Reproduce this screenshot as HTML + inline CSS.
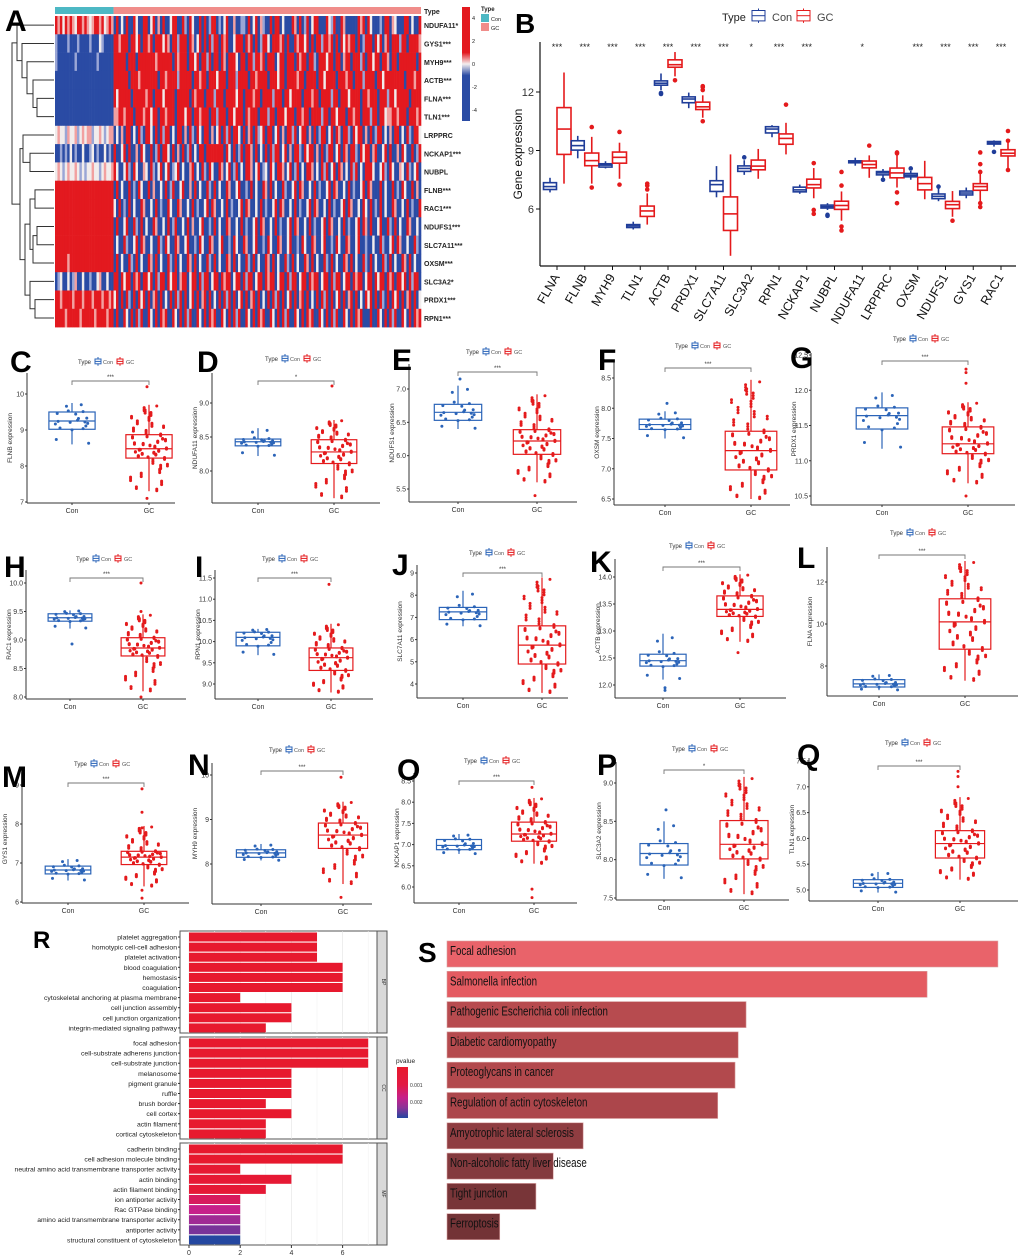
<!DOCTYPE html>
<html><head><meta charset="utf-8">
<style>
html,body{margin:0;padding:0;background:#fff;}
svg{display:block;font-family:"Liberation Sans",sans-serif;}
</style></head>
<body>
<svg id="fig" width="1020" height="1258" viewBox="0 0 1020 1258" xmlns="http://www.w3.org/2000/svg"></svg>
<script>
// ===== DATA =====
const genes=["FLNA","FLNB","MYH9","TLN1","ACTB","PRDX1","SLC7A11","SLC3A2","RPN1","NCKAP1","NUBPL","NDUFA11","LRPPRC","OXSM","NDUFS1","GYS1","RAC1"];
const sigStars=["***","***","***","***","***","***","***","*","***","***","","*","","***","***","***","***"];
const conLo=[6.85,8.6,8.08,4.95,12.1,11.17,6.6,7.75,9.68,6.78,5.95,8.22,7.6,7.5,6.4,6.55,9.2];
const conQ1=[7.0,9.02,8.15,5.05,12.35,11.45,6.9,7.93,9.9,6.88,6.05,8.37,7.75,7.65,6.53,6.72,9.33];
const conMed=[7.15,9.25,8.25,5.13,12.45,11.64,7.25,8.08,10.1,6.98,6.12,8.43,7.85,7.73,6.65,6.82,9.39];
const conQ3=[7.35,9.5,8.32,5.2,12.57,11.75,7.45,8.21,10.22,7.12,6.2,8.47,7.92,7.82,6.77,6.92,9.46];
const conHi=[7.6,9.75,8.45,5.35,12.95,11.97,8.2,8.5,10.3,7.25,6.3,8.63,8.05,7.95,7.05,7.1,9.52];
const conOut=[[],[],[],[],[11.9,11.95],[],[],[8.65],[],[],[5.7,5.65],[],[7.5],[8.08],[7.15],[],[8.93]];
const gcLo=[7.3,7.3,7.55,5.2,12.8,10.68,3.6,7.55,8.8,6.55,5.4,7.6,7.1,6.5,5.6,6.4,8.1];
const gcQ1=[8.8,8.22,8.35,5.62,13.27,11.1,4.9,8.01,9.32,7.08,5.98,8.11,7.6,6.98,6.02,6.96,8.72];
const gcMed=[10.1,8.48,8.65,5.9,13.4,11.24,5.75,8.2,9.62,7.25,6.18,8.28,7.85,7.3,6.22,7.15,8.86];
const gcQ3=[11.2,8.87,8.92,6.15,13.65,11.48,6.62,8.51,9.85,7.53,6.4,8.46,8.1,7.62,6.39,7.3,9.04];
const gcHi=[13.0,9.7,9.4,6.8,14.05,11.83,8.8,9.08,10.42,8.1,6.9,8.75,8.8,8.47,6.92,7.95,9.45];
const gcOut=[[],[10.2,7.1],[9.95,7.25],[7.0,7.2,7.3],[12.6],[12.1,12.3,12.25,10.5],[],[],[11.35],[8.35,5.95,5.75],[7.9,7.2,5.1,4.9],[9.25],[8.9,8.85,6.85,6.3],[],[5.4],[8.9,8.3,7.9,6.3,6.1],[10.0,9.5,8.0]];
// panel R (GO enrichment, gene counts)
const goTerms=["platelet aggregation","homotypic cell-cell adhesion","platelet activation","blood coagulation","hemostasis","coagulation","cytoskeletal anchoring at plasma membrane","cell junction assembly","cell junction organization","integrin-mediated signaling pathway","focal adhesion","cell-substrate adherens junction","cell-substrate junction","melanosome","pigment granule","ruffle","brush border","cell cortex","actin filament","cortical cytoskeleton","cadherin binding","cell adhesion molecule binding","neutral amino acid transmembrane transporter activity","actin binding","actin filament binding","ion antiporter activity","Rac GTPase binding","amino acid transmembrane transporter activity","antiporter activity","structural constituent of cytoskeleton"];
const goCounts=[5,5,5,6,6,6,2,4,4,3,7,7,7,4,4,4,3,4,3,3,6,6,2,4,3,2,2,2,2,2];
const goP=[0.0001,0.0001,0.0001,0.0001,0.0001,0.0001,0.0001,0.0001,0.0001,0.0001,0.0001,0.0001,0.0001,0.0001,0.0001,0.0001,0.0001,0.0001,0.0001,0.0001,0.0001,0.0001,0.0003,0.0004,0.0005,0.0012,0.0015,0.0019,0.0022,0.0028];
const goOnt=["BP","CC","MF"];
const goTicks=[0,2,4,6];
// panel S (KEGG)
const keggTerms=["Focal adhesion","Salmonella infection","Pathogenic Escherichia coli infection","Diabetic cardiomyopathy","Proteoglycans in cancer","Regulation of actin cytoskeleton","Amyotrophic lateral sclerosis","Non-alcoholic fatty liver disease","Tight junction","Ferroptosis"];
const keggScore=[7.0,6.1,3.8,3.7,3.66,3.44,1.73,1.35,1.13,0.67];
const keggColors=["#e9636a","#e45b61","#b74b4f","#b54a4e","#b2494d","#ac464b","#8f3d41","#843a3e","#783538","#733336"];
// heatmap (A): B strong blue, b light blue, w white, r pink, R red; 24 Con + 126 GC columns
const hmRows=["NDUFA11*","GYS1***","MYH9***","ACTB***","FLNA***","TLN1***","LRPPRC","NCKAP1***","NUBPL","FLNB***","RAC1***","NDUFS1***","SLC7A11***","OXSM***","SLC3A2*","PRDX1***","RPN1***"];
const hmCells=[
"RrRwRrRrwRRrRrwrRRrRwrRrBRBwBRBBRwBBRRBwRBrBRBBwRRBBRbBRwBBRBRBbRRBbBwRBBrBBbbBRBwRBrbBBRBRRBwBBBRrBRBbRBwRRBBBRwbRBBRrBBBBBRrRBRwBBBbBRRBrwBBBRRBwB",
"bBBBBbBBBbBBBBbBBBwbBBBBRRrRRRBRRwRBRRrRBRRRwRrBRRbRRRBRrBwRBRBRbRRBRrRBBwRRRBRrRBRBbRRwBRRRrRBRBBRrRRwRBRBRRbRRrRBRBRwRrRRBRBbRRRBRwRBrRBRRRbRRBRR",
"bBBBBBBBbBBBBBBBBbBBBBBBRRRRRBRRRBRRRRRRRrRRRRRRBRrRRRBRRwRBRRbRBRRBRrBRRRwBRRBRRbRRrRBRRRBwRRBRRRBRrRRBRRbBRRRwRRBRRBrRRBRRRbRBRRwRRBRRrBRRBRR",
"BBBBBBBBBBBBBBBBBBBBBBBBRRRRRRBRRRrRRRRRRRBRRrRRRRbRRRRRBRRrRRBRRRwRRRBRRRbRRRRBRRrRRRRBRRRwRRBRRRRrRRBRRRRBRRwRRRRBRRRrRRBRRRbRRRRBRRwRR",
"BBBBBBBBBBBBBBBBBBBBBBBBRwRRRRRBRRRRRrRRBRRRwRRRRBRRRRRBRrRRRBRRRbRRRBRRRRwRRBRRRrRRBRRRRbRRRBRRwRRRRBRRRrRRBRRRRbRRBRRRwRRRRBRRrRRRBRRRbR",
"BBBBBBBBBBBBBBBBBBBBBBBBrrRRrRRRBRRRrRRwRRBRRrRRRBRRRwRRBRRrRRRBRRbRRRBRRwRRRBRrRRRBRRRbRRBRRRwRRRBRRrRRBRRRRbRRBRRwRRRBRRrRRBRRRbRRBRRw",
"wrwwbrwwrbwrwrrbwwrwbwrrBwBrBRRBwBRbBRRwBRBRbRRBwBRRBrBRbBRwBRRBrBwRBRbRBRRwBRBrRBRbwRBRRBwRBrBRRbRBwRRBrBRBbRRBwRBRrBRRbBRwRRBrBRBbRR",
"BBbBbBwBbBBwBBbwBbBBwBbBRBBwRBRBBrBRwBBRBbRBRRwBRBrBRBbRBwBRRBRRRRRRRBRwBRBbRBRRrBRBwBRBRbRRBwRBrBRRbBRwRRBrBRBbRRBwRBRrBRRbBRwRRBr",
"wrwbwrwwrwbwbwwrwwbwrwwrRwBBwRbBRwBBrwBRbBwRBwRBbwRBwBBrRBwBRbBRwBBRrBwRBbRBwBRRrBwRBbwBRwBRRrBwRBbRBwBRRrBwBRbRBwRBRrBwBRbRBwBRR",
"RRRRRRRRRRRRRRRRRRRRRRRRBRBwBBRBbBRwBBRBrBBwBRBbRBBwRBBrBRBwBBRbBRBwBBRrBBwRBBbBRBwBBRrBRBwBBRbBBwRBRrBBwBRBbBBwRBRrBBwBRBbBBwRBRrBB",
"RRRRRRRRRRRRRRRRRRRRRRRRwBRBbBRBwBBRrBBwBRBbBBRwBBRrBBwBRBbBBwRBRrBBwBRBbBBwRBRrBBwBRBbBBwRBRrBBwBRBbBBwRBRrBBwBRBbBBwRBRrBBwBR",
"RRRRRRRRRRRRRRRRRRRRRRRRBRBBwRBBRbBRBwBBRrBBwBRBbRBBwBRBrBBwRBBbBRBwBBRrBBwBRBbBBwRBRrBBwBRBbBBwRBRrBBwBRBbBBwRBRrBBwBRBbBBwRBRr",
"RRRRRRRRRRRRRRRRRRRRRRRRBwBBRbBBwRBRrBBwBBRbBRwBBRrBBwRBBbBRwBBRrBBwRBBbBRwBBRrBBwRBBbBRwBBRrBBwRBBbBRwBBRrBBwRBBbBRwBBRrBBwRBBbB",
"RRRRRrRRRRRRRRRRRRRRRRRRBRBwBBRbBRBwBBRrBRBwBBRbBRBwBBRrBRBwBBRbBRBwBBRrBRBwBBRbBRBwBBRrBRBwBBRbBRBwBBRrBRBwBBRbBRBwBBRrBRBwBBRb",
"BbwBBwBbrBBwBBbBBwrBBwBBRRBRwRRBRrRBRRwRBRbRRBRwRRBrRRBwRRBRbRRBwRRBRrRRBwRRBRbRRBwRRBRrRRBwRRBRbRRBwRRBRrRRBwRRBRbRRBwRRBRrRRBw",
"RRrRRRRrRRRrRRRrRRRrRRrRwRBRBRbBRBRwRBRBrRBRBwBRBRbRBRBwRBRBrRBRBwBRBRbRBRBwRBRBrRBRBwBRBRbRBRBwRBRBrRBRBwBRBRbRBRBwRBRBrRBRBwBR",
"RRRRrRRRRRrRRRRRrRRRRrRRBRBBRwBRBRbRBBRwBRBRrRBBRwBRBRbRBBRwBRBRrRBBRwBRBRbRBBRwBRBRrRBBRwBRBRbRBBRwBRBRrRBBRwBRBRbRBBRwBRBRrRBB"
];
// fixed sample pattern for jittered points (quantile positions & horizontal offsets)
const ptQ=[0.52,0.11,0.78,0.33,0.95,0.61,0.24,0.87,0.46,0.05,0.69,0.38,0.91,0.17,0.57,0.82,0.29,0.73,0.43,0.99,0.08,0.64,0.35,0.84,0.49,0.21,0.76,0.14,0.58,0.93,0.41,0.67,0.02,0.55,0.27,0.89,0.71,0.19,0.47,0.81];
const ptJ=[0.3,-0.6,0.8,-0.2,0.1,-0.9,0.5,-0.4,0.9,0.0,-0.7,0.6,-0.1,0.4,-0.8,0.2,-0.5,0.7,-0.3,0.95,-0.95,0.35,-0.15,0.65,-0.65,0.15,-0.45,0.85,-0.25,0.55,-0.85,0.05,-0.55,0.75,-0.35,0.45,-0.75,0.25,-0.05,0.6];

// ===== helpers =====
const NS="http://www.w3.org/2000/svg";
const svg=document.getElementById('fig');
function mk(tag,attrs,parent,text){const e=document.createElementNS(NS,tag);for(const k in attrs)e.setAttribute(k,attrs[k]);if(text!==undefined)e.textContent=text;(parent||svg).appendChild(e);return e;}
function grp(name,parent){const g=mk('g',{},parent);return g;}
function txt(parent,x,y,s,size,opts){opts=opts||{};const t=mk('text',{x:x,y:y,'font-size':size,fill:opts.fill||'#222','text-anchor':opts.anchor||'start','font-weight':opts.weight||'normal'},parent,s);if(opts.rot!==undefined)t.setAttribute('transform','rotate('+opts.rot+' '+x+' '+y+')');if(opts.family)t.setAttribute('font-family',opts.family);return t;}
function letter(ch,x,y,size){const t=txt(svg,x,y,ch,size||30,{weight:'bold',fill:'#000'});return t;}
function qv(q,lo,q1,md,q3,hi){const ks=[0,.25,.5,.75,1],vs=[lo,q1,md,q3,hi];for(let i=0;i<4;i++){if(q<=ks[i+1]){const f=(q-ks[i])/(ks[i+1]-ks[i]);return vs[i]+f*(vs[i+1]-vs[i]);}}return hi;}
function drawBox(g,cx,w,y,lo,q1,md,q3,hi,col,sw,fill){
  const wl=mk('line',{x1:cx,x2:cx,y1:y(hi),y2:y(lo),stroke:col,'stroke-width':sw},g);
  const r=mk('rect',{x:cx-w/2,y:y(q3),width:w,height:Math.max(1,y(q1)-y(q3)),fill:fill,stroke:col,'stroke-width':sw},g);
  const m=mk('line',{x1:cx-w/2,x2:cx+w/2,y1:y(md),y2:y(md),stroke:col,'stroke-width':sw},g);
}
function legendIcon(g,x,y,col,s){mk('rect',{x:x,y:y-s/2,width:s,height:s*0.8,fill:'none',stroke:col,'stroke-width':1},g);mk('line',{x1:x,x2:x+s,y1:y-s/2+s*0.4,y2:y-s/2+s*0.4,stroke:col,'stroke-width':1},g);mk('line',{x1:x+s/2,x2:x+s/2,y1:y-s/2-2,y2:y-s/2,stroke:col},g);mk('line',{x1:x+s/2,x2:x+s/2,y1:y+s*0.3,y2:y+s*0.3+2,stroke:col},g);}

// ===== Panel A: heatmap =====
(function(){
  const g=grp('heatmap-panel');
  letter('A',5,31,30);
  const x0=55,x1=421,y0=16,rh=18.3,nc=150,cw=(x1-x0)/nc;
  const col={B:'#2a4ba4',b:'#9aa6d6',w:'#f1ecec',r:'#f2a0a0',R:'#e3191f'};
  const tb=mk('rect',{x:x0,y:7,width:24*cw,height:7,fill:'#4db8c4'},g);
  const tb2=mk('rect',{x:x0+24*cw,y:7,width:(nc-24)*cw,height:7,fill:'#f08d8a'},g);
  txt(g,424,14,'Type',7,{weight:'bold'});
  for(let r=0;r<hmRows.length;r++){
    let s=hmCells[r];while(s.length<nc)s+=s.slice(24);s=s.slice(0,nc);
    for(let c=0;c<nc;c++){
      const cell=mk('rect',{x:x0+c*cw,y:y0+r*rh,width:cw+0.3,height:rh+0.3,fill:col[s[c]]||col.w},g);
      
      
    }
    txt(g,424,y0+r*rh+rh/2+3,hmRows[r],7,{weight:'bold',name:'row-label'});
  }
  const yc=i=>y0+(i+0.5)*rh;
  const tree=[[0,[1,[2,[3,[4,5,18],22],28],33],38],[[6,[7,8,25],32],[[[9,10,20],[[11,12,18],13,22],25],[14,[15,16,20],25],30],35],43];
  const dg=grp('dendrogram',g);
  function dr(n){if(typeof n==='number')return {y:yc(n),x:x0-1};const a=dr(n[0]),b=dr(n[1]);const x=x0-n[2];
    mk('path',{d:'M'+a.x+' '+a.y+'H'+x+'V'+b.y+'H'+b.x,fill:'none',stroke:'#333','stroke-width':1},dg);return {y:(a.y+b.y)/2,x:x};}
  dr(tree);
  const lg=grp('heatmap-color-legend');
  const df=mk('defs',{},lg);const lgr=mk('linearGradient',{id:'hmg',x1:0,y1:0,x2:0,y2:1},df);
  [['0','#e3191f'],['0.4','#e3191f'],['0.5','#f4eeee'],['0.6','#2a4ba4'],['1','#2a4ba4']].forEach(s=>mk('stop',{offset:s[0],'stop-color':s[1]},lgr));
  mk('rect',{x:462,y:7,width:8,height:114,fill:'url(#hmg)'},lg);
  [['4',18],['2',41],['0',64],['-2',87],['-4',110]].forEach(t=>txt(lg,472,t[1]+2,t[0],5.5));
  txt(lg,481,11,'Type',6,{weight:'bold'});
  mk('rect',{x:481,y:14,width:8,height:8,fill:'#4db8c4'},lg);txt(lg,491,21,'Con',5.5);
  mk('rect',{x:481,y:23,width:8,height:8,fill:'#f08d8a'},lg);txt(lg,491,30,'GC',5.5);
})();

// ===== Panel B =====
(function(){
  const g=grp('boxplot-panel-b');
  letter('B',515,33,28);
  const L=540,Bm=266,R=1016,T=42;
  const y=v=>209-(v-6)*19.5;const x=i=>557+i*27.75;
  mk('line',{x1:L,x2:L,y1:T,y2:Bm,stroke:'#111','stroke-width':1.2},g);
  mk('line',{x1:L,x2:R,y1:Bm,y2:Bm,stroke:'#111','stroke-width':1.2},g);
  [6,9,12].forEach(v=>{mk('line',{x1:L-4,x2:L,y1:y(v),y2:y(v),stroke:'#111'},g);txt(g,L-6,y(v)+4,String(v),11,{anchor:'end',fill:'#333',name:'y-tick-label'});});
  txt(g,522,154,'Gene expression',12,{anchor:'middle',rot:-90,fill:'#111',name:'y-axis-title'});
  genes.forEach((gn,i)=>{
    const gg=grp('gene-'+gn.toLowerCase(),g);
    mk('line',{x1:x(i),x2:x(i),y1:Bm,y2:Bm+4,stroke:'#111'},gg);
    txt(gg,x(i)+3,Bm+11,gn,12.5,{anchor:'end',rot:-60,fill:'#111',name:'x-tick-label'});
    drawBox(gg,x(i)-7,13,y,conLo[i],conQ1[i],conMed[i],conQ3[i],conHi[i],'#1f3d99',1.6,'#fff');
    conOut[i].forEach(v=>{const c=mk('circle',{cx:x(i)-7,cy:y(v),r:2.3,fill:'#1f3d99'},gg);});
    drawBox(gg,x(i)+7,14,y,gcLo[i],gcQ1[i],gcMed[i],gcQ3[i],gcHi[i],'#e41a1c',1.6,'#fff');
    gcOut[i].forEach(v=>{const c=mk('circle',{cx:x(i)+7,cy:y(v),r:2.3,fill:'#e41a1c'},gg);});
    if(sigStars[i])txt(gg,x(i),50,sigStars[i],9,{anchor:'middle',fill:'#222',name:'significance'});
  });
  const lg=grp('legend',g);
  txt(lg,722,21,'Type',11,{fill:'#222'});
  legendIcon(lg,752,17,'#1f3d99',13);txt(lg,772,21,'Con',11,{fill:'#444'});
  legendIcon(lg,797,17,'#e41a1c',13);txt(lg,817,21,'GC',11,{fill:'#444'});
})();

// ===== Small boxplot panels C-Q =====
const panels=[
 {l:'C',lx:10,ly:372,gene:'FLNB',L:27,B:503,R:175,v1:7,y1:502,v2:10,y2:394,ticks:[7,8,9,10],cx:72,gx:149,legX:110,legY:362,brY:381},
 {l:'D',lx:197,ly:372,gene:'NDUFA11',L:212,B:503,R:380,v1:8,y1:471,v2:9,y2:403,ticks:[8.0,8.5,9.0],cx:258,gx:334,legX:297,legY:359,brY:381},
 {l:'E',lx:392,ly:370,gene:'NDUFS1',L:409,B:502,R:577,v1:5.5,y1:489,v2:7,y2:389,ticks:[5.5,6.0,6.5,7.0],cx:458,gx:537,legX:498,legY:352,brY:372},
 {l:'F',lx:598,ly:370,gene:'OXSM',L:614,B:505,R:790,v1:6.5,y1:499,v2:8.5,y2:378,ticks:[6.5,7.0,7.5,8.0,8.5],cx:665,gx:751,legX:707,legY:346,brY:368},
 {l:'G',lx:790,ly:368,gene:'PRDX1',L:811,B:505,R:1015,v1:10.5,y1:496,v2:12.5,y2:355,ticks:[10.5,11.0,11.5,12.0,12.5],cx:882,gx:968,legX:925,legY:339,brY:361},
 {l:'H',lx:4,ly:577,gene:'RAC1',L:26,B:699,R:186,v1:8,y1:697,v2:10,y2:583,ticks:[8.0,8.5,9.0,9.5,10.0],cx:70,gx:143,legX:108,legY:559,brY:578},
 {l:'I',lx:195,ly:577,gene:'RPN1',L:215,B:699,R:373,v1:9,y1:684,v2:11.5,y2:578,ticks:[9.0,9.5,10.0,10.5,11.0,11.5],cx:258,gx:331,legX:294,legY:559,brY:578},
 {l:'J',lx:392,ly:575,gene:'SLC7A11',L:417,B:698,R:568,v1:4,y1:684,v2:9,y2:573,ticks:[4,5,6,7,8,9],cx:463,gx:542,legX:501,legY:553,brY:573},
 {l:'K',lx:590,ly:572,gene:'ACTB',L:615,B:698,R:786,v1:12,y1:685,v2:14,y2:577,ticks:[12.0,12.5,13.0,13.5,14.0],cx:663,gx:740,legX:701,legY:546,brY:567},
 {l:'L',lx:797,ly:568,gene:'FLNA',L:827,B:696,R:1018,v1:8,y1:666,v2:12,y2:582,ticks:[8,10,12],cx:879,gx:965,legX:922,legY:533,brY:555},
 {l:'M',lx:2,ly:787,gene:'GYS1',L:22,B:903,R:189,v1:6,y1:902,v2:9,y2:785,ticks:[6,7,8,9],cx:68,gx:144,legX:106,legY:764,brY:783},
 {l:'N',lx:188,ly:775,gene:'MYH9',L:212,B:904,R:372,v1:8,y1:864,v2:10,y2:775,ticks:[8,9,10],cx:261,gx:343,legX:301,legY:750,brY:771},
 {l:'O',lx:397,ly:780,gene:'NCKAP1',L:414,B:903,R:577,v1:6,y1:887,v2:8.5,y2:781,ticks:[6.0,6.5,7.0,7.5,8.0,8.5],cx:459,gx:534,legX:496,legY:761,brY:781},
 {l:'P',lx:597,ly:775,gene:'SLC3A2',L:616,B:900,R:789,v1:7.5,y1:898,v2:9,y2:783,ticks:[7.5,8.0,8.5,9.0],cx:664,gx:744,legX:704,legY:749,brY:770},
 {l:'Q',lx:797,ly:765,gene:'TLN1',L:809,B:901,R:1018,v1:5,y1:890,v2:7.5,y2:761,ticks:[5.0,5.5,6.0,6.5,7.0,7.5],cx:878,gx:960,legX:917,legY:743,brY:766}
];
panels.forEach(p=>{
  const i=genes.indexOf(p.gene);
  const g=grp('boxplot-panel-'+p.l.toLowerCase());
  letter(p.l,p.lx,p.ly,30);
  const k=(p.y1-p.y2)/(p.v2-p.v1);const y=v=>p.y1-(v-p.v1)*k;
  const T=p.brY-8;
  mk('line',{x1:p.L,x2:p.L,y1:T,y2:p.B,stroke:'#333','stroke-width':1},g);
  mk('line',{x1:p.L,x2:p.R,y1:p.B,y2:p.B,stroke:'#333','stroke-width':1},g);
  const dec=!['C','J','L','M','N'].includes(p.l);
  p.ticks.forEach(t=>{mk('line',{x1:p.L-2,x2:p.L,y1:y(t),y2:y(t),stroke:'#333'},g);txt(g,p.L-3,y(t)+2.5,dec?t.toFixed(1):String(t),7,{anchor:'end',fill:'#333',name:'y-tick-label'});});
  txt(g,p.L-15,(T+p.B)/2,p.gene+' expression',6.5,{anchor:'middle',rot:-90,fill:'#333',name:'y-axis-title'});
  [[p.cx,'Con'],[p.gx,'GC']].forEach(a=>{mk('line',{x1:a[0],x2:a[0],y1:p.B,y2:p.B+2,stroke:'#333'},g);txt(g,a[0],p.B+10,a[1],7,{anchor:'middle',fill:'#333',name:'x-tick-label'});});
  const w=0.6*(p.gx-p.cx);
  drawBox(g,p.cx,w,y,conLo[i],conQ1[i],conMed[i],conQ3[i],conHi[i],'#2b64b8',1.2,'#fff');
  drawBox(g,p.gx,w,y,gcLo[i],gcQ1[i],gcMed[i],gcQ3[i],gcHi[i],'#e41a1c',1.2,'#fff');
  for(let n=0;n<20;n++){const q=ptQ[(n*2)%40];const v=qv(q,conLo[i],conQ1[i],conMed[i],conQ3[i],conHi[i]);
    const c=mk('circle',{cx:p.cx+ptJ[(n*3)%40]*w*0.4,cy:y(v),r:1.5,fill:'#2b64b8'},g);}
  conOut[i].forEach(v=>{const c=mk('circle',{cx:p.cx+2,cy:y(v),r:1.5,fill:'#2b64b8'},g);});
  for(let n=0;n<110;n++){const q=(ptQ[n%40]+Math.floor(n/40)*0.013)%1;const v=qv(q,gcLo[i],gcQ1[i],gcMed[i],gcQ3[i],gcHi[i]);
    const c=mk('circle',{cx:p.gx+ptJ[(n*7)%40]*w*0.42,cy:y(v),r:1.5,fill:'#e41a1c'},g);}
  gcOut[i].forEach(v=>{const c=mk('circle',{cx:p.gx-2,cy:y(v),r:1.5,fill:'#e41a1c'},g);});
  mk('path',{d:'M'+p.cx+' '+(p.brY+4)+'V'+p.brY+'H'+p.gx+'V'+(p.brY+4),fill:'none',stroke:'#777','stroke-width':0.9},g);
  txt(g,(p.cx+p.gx)/2,p.brY-2,sigStars[i],6,{anchor:'middle',fill:'#333',name:'significance'});
  const lg=grp('legend',g);
  txt(lg,p.legX-32,p.legY+2,'Type',6,{fill:'#333'});
  legendIcon(lg,p.legX-15,p.legY,'#2b64b8',6);txt(lg,p.legX-7,p.legY+2,'Con',5.5,{fill:'#555'});
  legendIcon(lg,p.legX+7,p.legY,'#e41a1c',6);txt(lg,p.legX+16,p.legY+2,'GC',5.5,{fill:'#555'});
});

// ===== Panel R: GO bars =====
(function(){
  const g=grp('go-enrichment-panel-r');
  letter('R',33,948,24);
  const L=180,Rr=377,x=v=>189+v*25.6;
  const facetTop=[931,1037,1143],fh=102,step=10.1;
  function pcol(pv){const stops=[[0,[232,25,44]],[0.001,[226,24,64]],[0.0015,[198,32,138]],[0.002,[150,44,150]],[0.0028,[36,71,160]]];
    for(let s=0;s<stops.length-1;s++){if(pv<=stops[s+1][0]){const f=Math.max(0,(pv-stops[s][0])/(stops[s+1][0]-stops[s][0]));const c=stops[s][1].map((a,j)=>Math.round(a+f*(stops[s+1][1][j]-a)));return 'rgb('+c.join(',')+')';}}return 'rgb(36,71,160)';}
  goOnt.forEach((o,f)=>{
    const fg=grp('facet-'+o.toLowerCase(),g);const t0=facetTop[f];
    mk('rect',{x:L,y:t0,width:Rr-L,height:fh,fill:'#fff',stroke:'#555','stroke-width':1},fg);
    [0,1,2,3,4,5,6,7].forEach(v=>mk('line',{x1:x(v),x2:x(v),y1:t0,y2:t0+fh,stroke:v%2?'#f2f2f2':'#e4e4e4','stroke-width':0.6},fg));
    mk('rect',{x:Rr,y:t0,width:10,height:fh,fill:'#d9d9d9',stroke:'#555','stroke-width':1},fg);
    txt(fg,Rr+5,t0+fh/2,o,5,{anchor:'middle',rot:90,fill:'#333',name:'facet-strip-label'});
    for(let k=0;k<10;k++){const idx=f*10+k;const cy=t0+6+k*step;
      const b=mk('rect',{x:x(0),y:cy-4.5,width:x(goCounts[idx])-x(0),height:9,fill:pcol(goP[idx])},fg);
      
      
      mk('line',{x1:L-2,x2:L,y1:cy,y2:cy,stroke:'#333'},fg);
      txt(fg,L-3,cy+2.5,goTerms[idx],6.8,{anchor:'end',fill:'#222',name:'term-label'});
    }
  });
  goTicks.forEach(v=>{mk('line',{x1:x(v),x2:x(v),y1:1245,y2:1248,stroke:'#333'},g);txt(g,x(v),1255,String(v),7,{anchor:'middle',fill:'#333',name:'x-tick-label'});});
  const lg=grp('pvalue-legend',g);
  txt(lg,396,1063,'pvalue',6.5,{fill:'#222'});
  const df=mk('defs',{},lg);const gr=mk('linearGradient',{id:'pg',x1:0,y1:0,x2:0,y2:1},df);
  [['0','#e8192c'],['0.35','#e21a44'],['0.6','#c6208a'],['0.8','#8a3498'],['1','#2447a0']].forEach(s=>mk('stop',{offset:s[0],'stop-color':s[1]},gr));
  mk('rect',{x:397,y:1067,width:11,height:51,fill:'url(#pg)'},lg);
  txt(lg,410,1087,'0.001',5,{fill:'#333'});txt(lg,410,1104,'0.002',5,{fill:'#333'});
})();

// ===== Panel S: KEGG bars =====
(function(){
  const g=grp('kegg-panel-s');
  letter('S',418,962,28);
  const x0=447,k=78.7,top=941,step=30.3,h=26;
  keggTerms.forEach((t,i)=>{
    const y=top+i*step;
    const b=mk('rect',{x:x0,y:y,width:keggScore[i]*k,height:h,fill:keggColors[i],stroke:'#d9a0a0','stroke-width':0.6},g);
    
    
    const tt=txt(g,0,0,t,12.5,{fill:'#111',name:'pathway-label'});
    tt.setAttribute('transform','translate('+(x0+3)+','+(y+14)+') scale(0.78,1)');
  });
})();
</script>
</body></html>
